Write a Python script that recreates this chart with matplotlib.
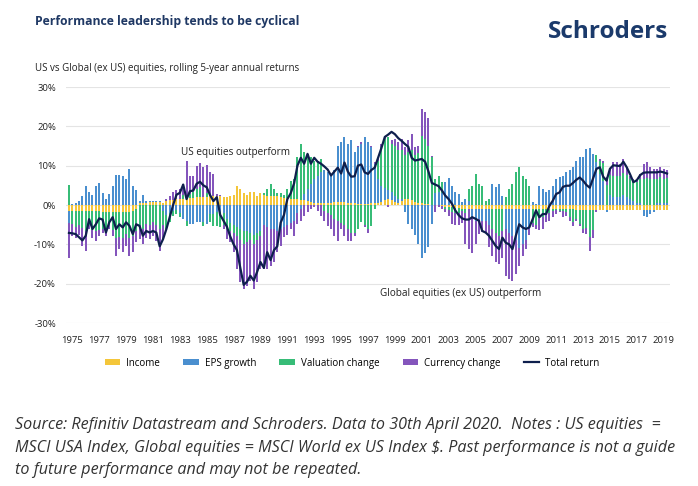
import matplotlib
matplotlib.use("Agg")
import matplotlib.pyplot as plt
import numpy as np
from matplotlib.patches import Patch
from matplotlib.lines import Line2D
from matplotlib import font_manager

plt.rcParams['font.family'] = ['Open Sans', 'DejaVu Sans']

# ---------------- data (quarterly, 1975 Q1 onwards, % p.a.) ----------------
start_year = 1975
income = [
    -1.5, -1.5, -1.5, -1.5, -1.5, -1.6, -1.6, -1.6, -1.6, -1.6, -1.7, -1.7, -1.7, -1.8,
    -1.8, -1.8, -1.9, -1.9, -1.8, -1.6, -1.0, 0.5, 0.6, 0.6, 0.7, 0.7, 0.8, 0.8,
    0.5, 1.0, 1.2, 1.3, 1.4, 1.5, 1.6, 1.7, 1.8, 1.9, 2.0, 2.0, 2.1, 2.1, 2.2, 2.2,
    2.2, 2.3, 2.0, 2.0, 2.2, 2.5, 4.8, 4.1, 3.1, 2.6, 3.4, 3.4, 2.2, 3.1,
    2.5, 2.4, 2.4, 2.3, 2.2, 2.0, 1.8, 1.7, 1.6, 1.5, 1.4, 1.3, 1.2, 1.0, 0.8, 0.6,
    0.5, 0.5, 0.5, 0.5, 0.5, 0.7, 0.8, 0.8, 0.7, 0.6, 0.5, 0.4, 0.3, 0.2,
    0.2, 0.3, 0.4, 0.5, 0.6, 0.8, 1.2, 1.4, 1.2, 0.8, 0.6, 1.0, 1.4, 1.5, 1.2, 0.8,
    0.5, 0.4, 0.3, 0.2, 0.1, 0.1, 0.0, -0.2, -0.4, -0.5, -0.6, -0.7, -0.8, -0.9,
    -1.0, -1.0, -1.0, -1.0, -1.0, -1.0, -1.0, -1.0, -1.0, -1.0, -1.0, -1.0, -1.0, -1.0,
    -1.0, -1.0, -1.0, -1.0, -1.0, -1.0, -1.0, -1.0, -1.0, -1.0, -1.0, -1.0, -1.0, -1.0, -1.1,
    -1.1, -1.1, -1.1, -1.1, -1.2, -1.2, -1.2, -1.2, -1.2, -1.2, -1.3, -1.3, -1.3, -1.3,
    -1.3, -1.3, -1.3, -1.3, -1.3, -1.3, -1.3, -1.3, -1.3, -1.3, -1.3, -1.3, -1.3, -1.3,
    -1.3, -1.3, -1.3, -1.3,
]
eps_growth = [
    -3.0, 0.3, 0.5, 1.0, 2.4, 4.9, 3.2, 2.5, 4.8, 5.5, 3.1, 1.5, 2.8, 4.9, 7.7, 7.7,
    7.3, 6.6, 9.2, 4.9, 3.7, 0.6, 1.9, 0.5, 0.4, 0.4, 0.1, 0.3,
    -1.5, -2.5, -2.0, -1.5, -1.3, -2.1, -3.6, -4.0, -4.9, -4.9, -4.4, -4.4, -4.3, -4.9,
    -2.4, -2.3, -1.8, -1.7, -2.1, -3.6, -4.5, -5.0, -5.5, -6.0, -6.5, -6.5, -7.0, -7.5,
    -7.0, -6.5,
    -5.0, -5.5, -6.0, -6.0, -6.5, -6.0, -5.5, -5.0, -4.5, -4.0, -2.0, -1.0, 1.5, 3.0,
    4.5, 6.0, 7.0, 8.0, 8.5, 8.0, 7.5, 8.3, 14.3, 15.2, 16.6, 15.0, 15.9, 13.0, 14.4, 15.4,
    17.1, 15.7, 14.3, 10.0, 6.0, 4.0, 3.0, 2.5, 2.0, 1.5, 1.0, 0.5, -1.9, -4.8, -6.0,
    -7.7, -10.0, -13.4, -12.1, -10.8, -4.8, 3.0, 3.3, 3.0, 5.8, 6.8, 4.9, 3.2, 2.8, 0.7,
    1.5, 1.0, -2.0, -3.0, -2.5, -3.0, -3.0, -4.0, 5.4, 4.5, 5.4, 2.4, -5.0, -6.0, -7.0,
    -8.0, -10.0, -9.0, -8.0, -5.0, 0.7, 0.3, 4.9, 4.1, 3.2, 3.7, 4.9, 6.6, 7.1,
    7.5, 8.3, 8.8, 9.6, 11.3, 12.2, 12.2, 14.3, 14.5, 13.0, 11.0, 8.0, 6.0, -0.6, 2.5,
    2.0, 2.0, 2.0, 2.5, 2.0, 1.5, 1.0, 0.5, 0.5, -1.4, -1.8, -1.0, -0.6, 0.5, 0.5, 0.5, 0.5,
]
valuation = [
    5.2, -3.3, -4.0, -3.5, -4.4, -5.1, -3.5, -4.7, -5.0, -4.7, -4.3, -4.1, -3.4, -4.5,
    -6.6, -6.4, -6.6, -5.5, -6.6, -6.4, -5.5, -5.2, -6.0, -4.8, -5.2, -4.3, -5.1, -6.2,
    -3.5, -3.6, -2.4, -1.2, -1.0, -1.0, 1.0, -1.3, 1.0, 1.5, 2.0, 2.5, -1.0, 1.0, -2.0,
    -3.0, -3.5, -4.0, -3.0, -2.5, -2.0, -2.0, -2.5, -3.0, -3.5, -3.0, -2.0, -2.5, -2.0, -1.5,
    0.5, 1.7, 3.0, 1.7, 0.8, 1.0, 0.7, 2.3, 4.4, 5.0, 10.8, 14.3, 10.7, 9.0, 6.9, 4.7,
    3.8, 3.2, -1.5, -2.0, -2.5, -3.5, -4.0, -4.5, -5.0, -6.0, -7.0, -7.0, -6.1, -4.4,
    -5.2, -6.0, -5.3, -1.0, 4.7, 9.9, 12.7, 13.4, 12.2, 12.6, 12.4, 12.4, 11.3, 11.9,
    12.9, 11.9, 12.6, 17.1, 16.4, 14.8, 12.1, 3.5, 4.0, 2.8, -0.5, -0.7, -1.2, -1.3, -1.2, -0.6,
    -1.0, 3.1, 4.9, 7.9, 5.4, 4.9, 1.0, 1.5, -5.0, -6.0, -7.0, -5.5, 2.0, 4.1, 5.4, 8.3,
    9.6, 7.5, 6.6, 4.9, -3.6, -4.0, -2.4, -2.0, -1.0, -1.0, -0.6, -0.3, -0.3,
    -0.5, -0.7, -1.9, -3.2, -2.3, -3.6, -4.8, -4.7, -6.9, -5.1, 1.6, 3.3, 4.7, 5.0, 5.2,
    5.4, 5.4, 5.5, 5.7, 5.6, 5.0, 5.2, 5.3, 6.0, 6.5, 6.9, 6.6, 6.7, 6.2, 6.6, 6.2, 6.3,
]
currency = [
    -8.9, -3.0, -2.8, -2.5, -4.5, -5.0, -1.0, -2.0, -2.5, -1.5, -1.0, -2.0, -1.0, -1.5,
    -4.5, -3.0, -3.5, -3.0, -4.5, -4.0, -3.0, -3.5, -4.0, -3.5, -3.5, -3.5, -4.0, -5.5,
    -3.7, 0.5, 1.0, 1.9, 2.3, 2.6, 2.8, 9.6, 4.7, 4.1, 6.0, 6.2, 7.5, 7.1, 6.3, 5.7, 0.6,
    0.3, -1.0, -2.5, -3.0, -5.0, -8.3, -10.7, -11.4, -11.1, -10.3, -11.4, -10.7, -8.3,
    -11.3, -10.8, -9.5, -8.5, -5.5, -4.4, -2.7, -2.7, -1.6, -3.8, -2.8, -3.0, -2.7, -1.9,
    -1.0, -0.6, -1.5, -2.7, -2.5, -3.3, -3.6, -4.3, -5.1, -1.6, -2.8, -3.1, -2.1, -0.8, 0.3, 0.5,
    -0.5, -1.0, 0.3, 0.5, 0.5, 0.8, 0.5, -0.4, 1.0, 2.0, 2.0, 3.0, 2.0, 3.0, 4.0, 2.0, 2.0,
    7.0, 7.0, 7.0, 0.3, -1.9, -0.6, -0.8, -1.0, -1.5, -3.0, -3.0, -3.0, -3.0,
    -7.9, -10.2, -9.1, -6.0, -3.9, -2.9, -3.0, -5.8, -6.9, -7.6, -7.1, -6.9, -12.0, -11.9,
    -11.3, -8.6, -4.4, -2.9, -2.2, -1.7, -1.0, -1.0, -3.0, -3.0, -2.4, -2.0, -1.5, -1.0, -0.5,
    -1.5, -1.0, -1.0, -1.0, -0.5, -0.5, -1.0, -1.5, -3.5, -2.0, -0.6, 0.3, 0.5, 2.1, 1.5,
    3.5, 3.5, 3.0, 3.5, 2.0, 1.0, 0.3, 0.3, 1.4, 4.0, 4.0, 3.0, 2.5, 2.5, 2.5, 2.5, 2.0,
]
total_return = [
    -7.1, -7.2, -7.4, -8.2, -9.0, -7.8, -3.6, -6.1, -4.9, -3.4, -3.7, -7.0, -4.4, -3.1,
    -6.1, -4.9, -5.7, -4.4, -5.3, -7.4, -4.9, -5.3, -7.8, -6.6, -7.0, -6.6, -7.0, -10.5,
    -8.7, -6.1, -3.1, 0.0, 2.6, 3.1, 5.2, 1.5, 3.5, 3.7, 5.4, 5.9, 5.0, 4.5, 2.5, 1.0,
    2.0, -2.5, -4.0, -5.5, -8.0, -10.0, -11.5, -16.0, -20.3, -19.5, -18.0, -19.2, -17.0, -14.5,
    -16.0, -12.0, -14.0, -11.5, -10.5, -4.5, -2.5, 1.5, 3.0, 5.5, 10.0, 12.0, 10.5, 13.0,
    10.5, 12.0, 11.0, 10.5, 9.8, 9.0, 7.5, 8.5, 9.5, 8.0, 10.8, 8.5, 7.2, 7.3, 10.0, 10.3,
    8.3, 7.9, 8.9, 9.5, 12.0, 14.5, 17.3, 17.9, 18.6, 18.0, 17.0, 16.3, 15.5, 14.8, 12.0,
    11.3, 11.5, 11.7, 11.0, 8.5, 5.6, 5.2, 4.8, 3.7, 2.4, 1.5, 0.3, -1.4, -2.6, -3.4,
    -3.7, -3.7, -3.1, -3.5, -4.0, -6.6, -7.0, -7.8, -9.1, -10.4, -11.2, -8.3, -9.6, -10.0,
    -11.2, -7.8, -4.9, -5.7, -6.1, -5.7, -3.6, -1.4, -3.1, -2.3, -2.3, -0.2, 1.1, 2.8, 3.2,
    4.6, 4.9, 4.9, 5.6, 6.4, 7.0, 6.2, 5.1, 4.4, 6.8, 9.2, 9.6, 7.2, 6.2, 9.2, 10.1, 10.0,
    9.9, 11.0, 9.6, 7.8, 5.8, 6.3, 7.6, 8.2, 8.3, 8.3, 8.3, 8.3, 8.5, 8.3, 8.0,
]
tick_years = list(range(1975, 2020, 2))
y_ticks = [-30, -20, -10, 0, 10, 20, 30]

series_names = ["Income", "EPS growth", "Valuation change", "Currency change"]
series_colors = ["#F4C63A", "#4A8FCF", "#37BC77", "#8455BC"]
line_color = "#0E1F4D"

# narrow font for the title, if installed
installed = {f.name for f in font_manager.fontManager.ttflist}
title_family = ["Liberation Sans Narrow"] if "Liberation Sans Narrow" in installed else ["Open Sans"]

# ---------------- figure ----------------
W, H = 698, 486
fig = plt.figure(figsize=(W / 100, H / 100), dpi=100)
fig.patch.set_facecolor("white")

ax_l, ax_r, ax_t, ax_b = 65.6, 670.4, 87, 323
ax = fig.add_axes([ax_l / W, 1 - ax_b / H, (ax_r - ax_l) / W, (ax_b - ax_t) / H])

n = len(total_return)
x = np.arange(n)
pos_base = np.zeros(n)
neg_base = np.zeros(n)
for vals, name, col in zip([income, eps_growth, valuation, currency], series_names, series_colors):
    v = np.asarray(vals, dtype=float)
    p = np.where(v > 0, v, 0.0)
    q = np.where(v < 0, v, 0.0)
    ax.bar(x, p, bottom=pos_base, width=0.6, color=col, linewidth=0, zorder=2, label=name)
    ax.bar(x, q, bottom=neg_base, width=0.6, color=col, linewidth=0, zorder=2)
    pos_base += p
    neg_base += q

ax.plot(x, total_return, color=line_color, linewidth=1.6, zorder=4, label="Total return")

ax.set_xlim(-1, n)
ax.set_ylim(-30, 30)
ax.set_yticks(y_ticks)
ax.set_yticklabels([f"{t}%" for t in y_ticks])
ax.set_xticks([4 * (y - start_year) + 1 for y in tick_years])
ax.set_xticklabels([str(y) for y in tick_years])
ax.grid(axis="y", color="#e4e4e4", linewidth=0.8, zorder=0)
ax.set_axisbelow(True)
for s in ax.spines.values():
    s.set_visible(False)
ax.tick_params(axis="both", length=0, labelsize=6.8, colors="#222222")
ax.tick_params(axis="y", pad=7)
ax.tick_params(axis="x", pad=9)

ax.text(49.5, 13.4, "US equities outperform", fontsize=7.2, ha="center", va="center", color="#222222", zorder=5)
ax.text(116.5, -22.4, "Global equities (ex US) outperform", fontsize=7.2, ha="center", va="center",
        color="#222222", zorder=5)

# titles
title_size = 10.5 if title_family[0] == "Liberation Sans Narrow" else 8.7
fig.text(35 / W, 1 - 22 / H, "Performance leadership tends to be cyclical", fontsize=title_size,
         fontweight="bold", color="#1F3864", va="center", ha="left", family=title_family + ["DejaVu Sans"])
fig.text(668 / W, 1 - 32 / H, "Schroders", fontsize=17.5, fontweight="bold", color="#1B3A6B",
         va="center", ha="right")
fig.text(35 / W, 1 - 68 / H, "US vs Global (ex US) equities, rolling 5-year annual returns",
         fontsize=7.0, color="#222222", va="center", ha="left")

# legend
handles = [Patch(facecolor=c, edgecolor="none") for c in series_colors]
handles.append(Line2D([0], [0], color=line_color, linewidth=1.6))
labels = series_names + ["Total return"]
fig.legend(handles, labels, loc="center", bbox_to_anchor=(352 / W, 1 - 363 / H), ncol=5,
           frameon=False, fontsize=7.0, handlelength=1.6, handleheight=0.55,
           handletextpad=0.6, columnspacing=2.4)

# source note
src = [
    "Source: Refinitiv Datastream and Schroders. Data to 30th April 2020.  Notes : US equities  =",
    "MSCI USA Index, Global equities = MSCI World ex US Index $. Past performance is not a guide",
    "to future performance and may not be repeated.",
]
for k, line in enumerate(src):
    fig.text(15 / W, 1 - (425 + 22.5 * k) / H, line, fontsize=11.6, style="italic",
             color="#333333", va="center", ha="left")

fig.savefig("out.png", dpi=100, facecolor="white")
